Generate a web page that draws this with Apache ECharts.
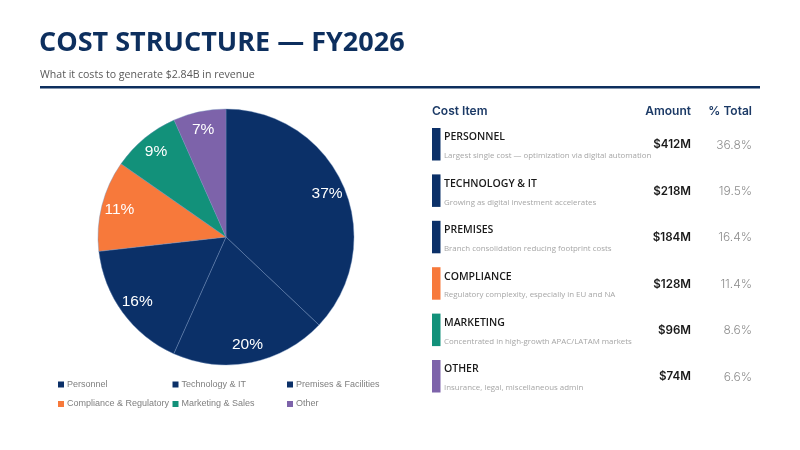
<!DOCTYPE html>
<html>
<head>
<meta charset="utf-8">
<script src="https://cdn.jsdelivr.net/npm/echarts@6/dist/echarts.min.js"></script>
<style>
html,body{margin:0;padding:0;background:#fff;}
#c{width:800px;height:450px;}
</style>
</head>
<body>
<div id="c"></div>
<script>
// ---- data ----
const legendNames = ["Personnel","Technology & IT","Premises & Facilities","Compliance & Regulatory","Marketing & Sales","Other"];
const pctValues = [36.8, 19.5, 16.4, 11.4, 8.6, 6.6];
const itemTitles = ["PERSONNEL","TECHNOLOGY & IT","PREMISES","COMPLIANCE","MARKETING","OTHER"];
const itemDescs = [
  "Largest single cost \u2014 optimization via digital automation",
  "Growing as digital investment accelerates",
  "Branch consolidation reducing footprint costs",
  "Regulatory complexity, especially in EU and NA",
  "Concentrated in high-growth APAC/LATAM markets",
  "Insurance, legal, miscellaneous admin"
];
const amounts = ["$412M","$218M","$184M","$128M","$96M","$74M"];
const pctLabels = ["36.8%","19.5%","16.4%","11.4%","8.6%","6.6%"];
const headers = ["Cost Item","Amount","% Total"];
const titleText = "COST STRUCTURE \u2014 FY2026";
const subtitleText = "What it costs to generate $2.84B in revenue";

// ---- styles ----
const NAVY = "#0b3068";
const colors = [NAVY, NAVY, NAVY, "#f7793b", "#12917a", "#7d63aa"];

const chart = echarts.init(document.getElementById('c'), null, {renderer:'canvas'});

const pieData = legendNames.map((n,i)=>({name:n, value:pctValues[i], itemStyle:{color:colors[i]}}));

const legends = legendNames.map((n,i)=>({
  data:[n], left: 53 + (i%3)*114.5, top: 375 + Math.floor(i/3)*19.5,
  icon:'rect', itemWidth:6, itemHeight:6, itemGap:0, padding:5,
  itemStyle:{borderWidth:0},
  textStyle:{color:'#7f7f7f', fontSize:9, fontFamily:'Liberation Sans', padding:[0,0,0,-2], width:120, overflow:'none'},
  selectedMode:false
}));

const graphics = [];
graphics.push({type:'rect', shape:{x:40,y:86,width:720,height:2.5}, style:{fill:'#0d2f5e'}});
// header
const headerY = 111;
graphics.push({type:'text', style:{text:headers[0], x:432, y:headerY, textVerticalAlign:'middle', fill:'#1c3a66', font:'600 12px Inter'}});
graphics.push({type:'text', style:{text:headers[1], x:691, y:headerY, textAlign:'right', textVerticalAlign:'middle', fill:'#1c3a66', font:'600 12px Inter'}});
graphics.push({type:'text', style:{text:headers[2], x:752, y:headerY, textAlign:'right', textVerticalAlign:'middle', fill:'#1c3a66', font:'600 12px Inter'}});
itemTitles.forEach((t,i)=>{
  const y0 = 128 + i*46.4;
  graphics.push({type:'rect', shape:{x:432,y:y0,width:8.5,height:32.5}, style:{fill:colors[i]}});
  graphics.push({type:'text', style:{text:t, x:444, y:y0+9.5, textVerticalAlign:'middle', fill:'#1a1a1a', font:'600 10.5px "Open Sans"'}});
  graphics.push({type:'text', style:{text:itemDescs[i], x:444, y:y0+28, textVerticalAlign:'middle', fill:'#a6a6a6', font:'7.9px "Open Sans"'}});
  graphics.push({type:'text', style:{text:amounts[i], x:691, y:y0+17, textAlign:'right', textVerticalAlign:'middle', fill:'#1a1a1a', font:'600 11.6px Inter'}});
  graphics.push({type:'text', style:{text:pctLabels[i], x:752, y:y0+17, textAlign:'right', textVerticalAlign:'middle', fill:'#8c8c8c', font:'300 12px Inter'}});
});

chart.setOption({
  animation:false,
  title:[
    {text:titleText, left:34, top:25, textStyle:{color:'#0d2f5e', fontSize:27, fontWeight:'bold', fontFamily:'Open Sans'}},
    {text:subtitleText, left:35, top:64, textStyle:{color:'#595959', fontSize:10.6, fontWeight:'normal', fontFamily:'Open Sans'}}
  ],
  legend: legends,
  graphic: graphics,
  series:[
    {
      type:'pie', center:[226,237], radius:[0,128], startAngle:90, clockwise:true,
      data:pieData, label:{show:false}, labelLine:{show:false},
      itemStyle:{borderColor:'#6f8dbb', borderWidth:0.4},
      emphasis:{disabled:true}, silent:true
    },
    {
      type:'pie', center:[226,237], radius:[86,128], startAngle:90, clockwise:true,
      data:pieData.map(d=>({name:d.name, value:d.value})),
      itemStyle:{color:'rgba(0,0,0,0)', borderWidth:0},
      label:{show:true, position:'inside', color:'#fff', fontSize:15.5, fontFamily:'Liberation Sans',
        formatter:p=>Math.round(p.value)+'%'},
      labelLine:{show:false}, emphasis:{disabled:true}, silent:true, tooltip:{show:false}
    }
  ]
});
</script>
</body>
</html>
